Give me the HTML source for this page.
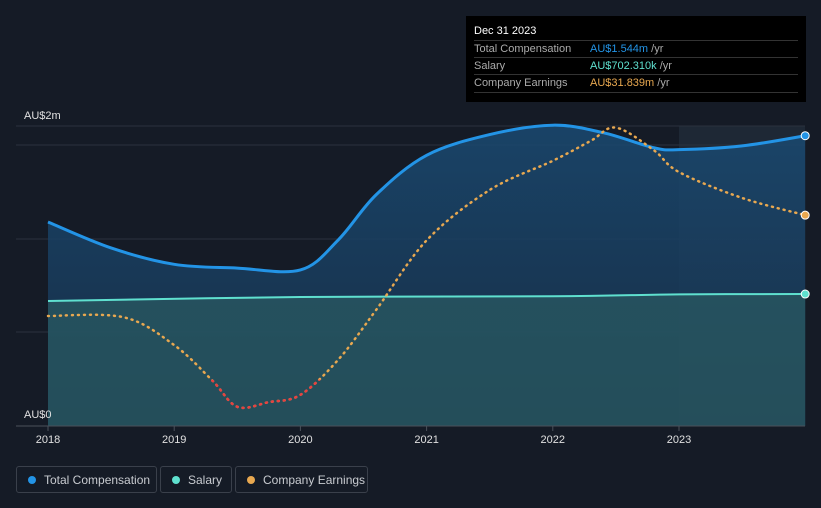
<!DOCTYPE html>
<html><head><meta charset="utf-8"><style>
body{margin:0;background:#151b26;font-family:"Liberation Sans",sans-serif;}
#wrap{position:relative;width:821px;height:508px;overflow:hidden;background:#151b26;}
.lg{position:absolute;top:466px;height:27px;border:1px solid #3a404b;border-radius:3px;color:#c8cbd0;font-size:12px;line-height:26px;box-sizing:border-box;padding-left:27px;white-space:nowrap}
.lg i{position:absolute;left:11px;top:9px;width:8px;height:8px;border-radius:50%}
#tip{position:absolute;left:466px;top:16px;width:340px;height:86px;background:#000;color:#fff;font-size:11px}
#tip .r{position:absolute;left:8px;width:324px;border-top:1px solid #333;height:17px;line-height:17px;color:#aaa}
#tip .r b{position:absolute;left:116px;font-weight:normal}
</style></head><body>
<div id="wrap">
<svg id="svg" width="821" height="508" style="position:absolute;left:0;top:0"></svg>
<div id="tip">
<div style="position:absolute;left:8px;top:9px;font-size:11px">Dec 31 2023</div>
<div class="r" style="top:24px">Total Compensation<b style="color:#2394e6">AU$1.544m <span style="color:#aaa">/yr</span></b></div>
<div class="r" style="top:41px">Salary<b style="color:#5fe0cf">AU$702.310k <span style="color:#aaa">/yr</span></b></div>
<div class="r" style="top:58px;border-bottom:1px solid #333">Company Earnings<b style="color:#e8a850">AU$31.839m <span style="color:#aaa">/yr</span></b></div>
</div>
<div class="lg" style="left:16px;width:141px"><i style="background:#2394e6"></i>Total Compensation</div>
<div class="lg" style="left:160px;width:72px"><i style="background:#5fe0cf"></i>Salary</div>
<div class="lg" style="left:235px;width:133px"><i style="background:#e8a850"></i>Company Earnings</div>
</div>
<script>
const compX=[2018,2018.5,2019,2019.5,2020,2020.3,2020.6,2021,2021.5,2022,2022.4,2022.8,2023,2023.5,2024];
const compV=[1.085,0.947,0.86,0.84,0.83,0.99,1.23,1.44,1.55,1.6,1.56,1.48,1.47,1.49,1.544];
const salX=[2018,2020,2022,2023,2024];
const salV=[0.665,0.686,0.69,0.70,0.702];
const earnX=[2018,2018.6,2019,2019.3,2019.5,2019.75,2020,2020.3,2020.6,2021,2021.5,2022,2022.3,2022.5,2022.8,2023,2023.5,2024];
const earnV=[16.6,16.4,12.2,6.9,2.9,3.6,4.7,10,17.5,28,35.6,40,43,45,41.6,38.3,34.4,31.8];
const xTicks=[2018,2019,2020,2021,2022,2023];
const yLabels=["AU$0","AU$2m"];
const svg=document.getElementById('svg');const NS='http://www.w3.org/2000/svg';
const X=t=>48+(t-2018)*126.2, Y=v=>426-v*188, YE=v=>426-v*6.63;
function mk(tag,at,name){const e=document.createElementNS(NS,tag);for(const k in at)e.setAttribute(k,at[k]);


svg.appendChild(e);return e;}
function curve(p){let d='M'+p[0][0]+','+p[0][1];for(let i=0;i<p.length-1;i++){const a=p[i-1]||p[i],b=p[i],c=p[i+1],e=p[i+2]||c;
d+=' C'+(b[0]+(c[0]-a[0])/6)+','+(b[1]+(c[1]-a[1])/6)+' '+(c[0]-(e[0]-b[0])/6)+','+(c[1]-(e[1]-b[1])/6)+' '+c[0]+','+c[1];}return d;}
const defs=mk('defs',{},'defs');defs.innerHTML='<linearGradient id="g1" x1="0" y1="0" x2="0" y2="1"><stop offset="0" stop-color="#1a4a72"/><stop offset="1" stop-color="#17304a"/></linearGradient>';
mk('rect',{x:679,y:126,width:126,height:300,fill:'#1e2835'},'highlight-region');
[126,145,239,332].forEach((y,i)=>mk('line',{x1:16,x2:805,y1:y,y2:y,stroke:'#2b323d','stroke-width':1},'gridline'));
const cp=compX.map((t,i)=>[X(t),Y(compV[i])]),sp=salX.map((t,i)=>[X(t),Y(salV[i])]),ep=earnX.map((t,i)=>[X(t),YE(earnV[i])]);
const last=X(compX[compX.length-1]);
mk('path',{d:curve(cp)+' L'+last+',426 L48,426 Z',fill:'url(#g1)',opacity:0.85},'total-compensation-area');
mk('path',{d:curve(sp)+' L'+last+',426 L48,426 Z',fill:'#2a5a62',opacity:0.75},'salary-area');
mk('path',{d:curve(cp),fill:'none',stroke:'#2394e6','stroke-width':3},'total-compensation-line');
mk('path',{d:curve(sp),fill:'none',stroke:'#5fe0cf','stroke-width':2},'salary-line');
mk('path',{d:curve(ep),fill:'none',stroke:'#e8a850','stroke-width':2.5,'stroke-dasharray':'1 5','stroke-linecap':'round'},'company-earnings-line');
const cl=mk('clipPath',{id:'cl'},'low-clip');cl.innerHTML='<rect x="0" y="'+YE(7)+'" width="821" height="60"/>';
mk('path',{d:curve(ep),fill:'none',stroke:'#e84040','stroke-width':2.5,'stroke-dasharray':'1 5','stroke-linecap':'round','clip-path':'url(#cl)'},'company-earnings-low-line');
mk('circle',{cx:cp[cp.length-1][0],cy:cp[cp.length-1][1],r:4,fill:'#2394e6',stroke:'#fff','stroke-width':1},'total-compensation-end');
mk('circle',{cx:sp[sp.length-1][0],cy:sp[sp.length-1][1],r:4,fill:'#5fe0cf',stroke:'#fff','stroke-width':1},'salary-end');
mk('circle',{cx:ep[ep.length-1][0],cy:ep[ep.length-1][1],r:4,fill:'#e8a850',stroke:'#fff','stroke-width':1},'company-earnings-end');
mk('line',{x1:16,x2:805,y1:426,y2:426,stroke:'#4a505a'},'x-axis');
xTicks.forEach(t=>{mk('line',{x1:X(t),x2:X(t),y1:426,y2:431,stroke:'#4a505a'},'x-tick');
const tx=mk('text',{x:X(t),y:443,fill:'#e0e0e0','font-size':11,'text-anchor':'middle'},'x-tick-label');tx.textContent=t;});
const y0=mk('text',{x:24,y:418,fill:'#e0e0e0','font-size':11},'y-label-min');y0.textContent=yLabels[0];
const y1=mk('text',{x:24,y:119,fill:'#e0e0e0','font-size':11},'y-label-max');y1.textContent=yLabels[1];
</script>
</body></html>
